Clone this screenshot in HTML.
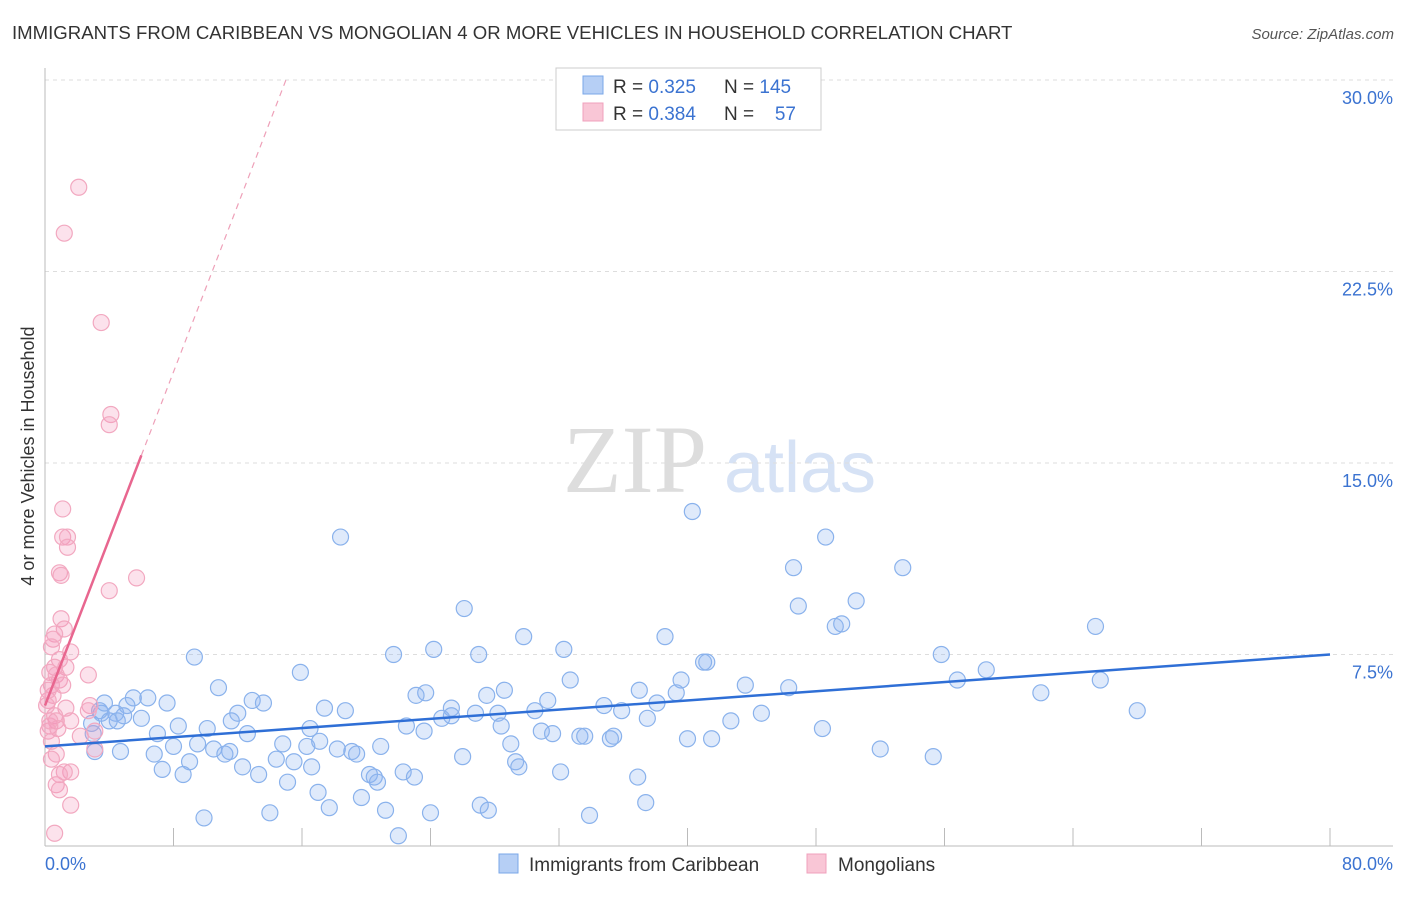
<!DOCTYPE html>
<html><head><meta charset="utf-8"><style>
body{margin:0;background:#fff;font-family:"Liberation Sans",sans-serif}
svg text{font-family:"Liberation Sans",sans-serif}
</style></head><body>
<svg id="c" width="1406" height="892" viewBox="0 0 1406 892">
<text x="12" y="39" font-size="18.6" fill="#333">IMMIGRANTS FROM CARIBBEAN VS MONGOLIAN 4 OR MORE VEHICLES IN HOUSEHOLD CORRELATION CHART</text>
<text x="1394" y="39" font-size="15" fill="#555" font-style="italic" text-anchor="end">Source: ZipAtlas.com</text>
<text transform="translate(34,456) rotate(-90)" font-size="18" fill="#333" text-anchor="middle">4 or more Vehicles in Household</text>
<text x="635" y="492" font-size="96" fill="#ddd" text-anchor="middle" style="font-family:'Liberation Serif',serif">ZIP</text>
<text x="800" y="492" font-size="72" fill="#d6e2f5" text-anchor="middle">atlas</text>
<g id="grid"></g><g id="axes"></g><g id="pts"></g><g id="trend"></g>
<g>
<rect x="556" y="68" width="265" height="62" fill="#fff" stroke="#ccc"/>
<rect x="583" y="76" width="20" height="18" fill="#b6cff5" stroke="#7aa7e8"/>
<rect x="583" y="103" width="20" height="18" fill="#f9c6d6" stroke="#f0a0bc"/>
<text x="613" y="93" font-size="19" fill="#333">R = <tspan fill="#3b73d1">0.325</tspan></text>
<text x="724" y="93" font-size="19" fill="#333">N = <tspan fill="#3b73d1">145</tspan></text>
<text x="613" y="120" font-size="19" fill="#333">R = <tspan fill="#3b73d1">0.384</tspan></text>
<text x="724" y="120" font-size="19" fill="#333">N = </text>
<text x="796" y="120" font-size="19" fill="#3b73d1" text-anchor="end">57</text>
</g>
<g>
<rect x="499" y="854" width="19" height="19" fill="#b6cff5" stroke="#7aa7e8"/>
<text x="529" y="871" font-size="19" fill="#333">Immigrants from Caribbean</text>
<rect x="807" y="854" width="19" height="19" fill="#f9c6d6" stroke="#f0a0bc"/>
<text x="838" y="871" font-size="19" fill="#333">Mongolians</text>
</g>
</svg>
<script>
const yTicks=[7.5,15,22.5,30];
const yTickLabels=["7.5%","15.0%","22.5%","30.0%"];
const xTicks=[0,8,16,24,32,40,48,56,64,72,80];
const xEndLabels=["0.0%","80.0%"];
const blueX=[18.4,40.3,48.6,46.6,53.4,26.1,46.9,50.5,49.2,49.6,65.4,29.8,38.6,32.3,24.2,21.7,27.0,55.8,41.0,41.2,9.3,15.9,58.6,32.7,39.6,65.7,56.8,10.8,23.7,28.6,27.5,37.0,39.3,43.6,46.3,62.0,68.0,5.5,6.4,7.6,12.9,13.6,23.1,31.3,38.1,12.0,17.4,18.7,25.3,26.8,30.5,34.8,35.9,3.5,5.1,3.4,4.4,4.5,4.9,6.0,4.0,44.6,11.6,24.7,25.3,28.2,8.3,10.1,16.5,28.4,37.5,42.7,48.4,12.6,7.0,22.5,23.6,30.9,31.6,33.3,33.6,35.2,35.4,17.1,8.0,9.5,10.5,11.2,11.5,14.8,16.3,18.2,19.1,19.4,20.9,29.0,40.0,41.5,52.0,4.7,6.8,9.0,14.4,15.5,26.0,29.3,29.5,55.3,7.3,8.6,12.3,13.3,16.6,20.2,20.5,20.7,22.3,23.0,32.1,36.9,15.1,17.0,19.7,17.7,27.1,27.6,37.4,9.9,14.0,21.2,24.0,33.9,22.0,3.1,3.0,2.9,3.7];
const blueY=[12.1,13.1,12.1,10.9,10.9,9.3,9.4,9.6,8.6,8.7,8.6,8.2,8.2,7.7,7.7,7.5,7.5,7.5,7.2,7.2,7.4,6.8,6.9,6.5,6.5,6.5,6.5,6.2,6.0,6.1,5.9,6.1,6.0,6.3,6.2,6.0,5.3,5.8,5.8,5.6,5.7,5.6,5.9,5.7,5.6,5.2,5.4,5.3,5.4,5.2,5.3,5.5,5.3,5.2,5.5,5.3,5.2,4.9,5.1,5.0,4.9,5.2,4.9,5.0,5.1,5.2,4.7,4.6,4.6,4.7,5.0,4.9,4.6,4.4,4.4,4.7,4.5,4.5,4.4,4.3,4.3,4.2,4.3,4.1,3.9,4.0,3.8,3.6,3.7,4.0,3.9,3.8,3.7,3.6,3.9,4.0,4.2,4.2,3.8,3.7,3.6,3.3,3.4,3.3,3.5,3.3,3.1,3.5,3.0,2.8,3.1,2.8,3.1,2.8,2.7,2.5,2.9,2.7,2.9,2.7,2.5,2.1,1.9,1.5,1.6,1.4,1.7,1.1,1.3,1.4,1.3,1.2,0.4,3.7,4.4,4.8,5.6];
const pinkX=[2.1,1.2,3.5,4.1,4.0,1.1,1.1,1.4,1.4,0.9,1.0,5.7,4.0,1.0,1.2,0.6,0.5,1.6,0.4,0.9,1.3,2.7,0.6,0.3,0.7,0.9,0.4,1.1,1.3,0.5,0.2,2.8,2.7,0.6,0.7,1.6,0.3,0.8,0.2,3.1,2.2,3.1,0.7,0.4,1.6,1.2,0.9,0.7,0.9,1.6,0.6,0.3,0.4,0.2,0.1];
const pinkY=[25.8,24.0,20.5,16.9,16.5,13.2,12.1,12.1,11.7,10.7,10.6,10.5,10.0,8.9,8.5,8.3,8.1,7.6,7.8,7.3,7.0,6.7,7.0,6.8,6.7,6.5,6.3,6.3,5.4,5.9,5.7,5.5,5.3,5.1,4.9,4.9,4.7,4.6,4.5,4.5,4.3,3.8,3.6,3.4,2.9,2.9,2.8,2.4,2.2,1.6,0.5,4.9,4.1,6.1,5.5];
const blueTrend=[3.9,7.5];
const pinkTrend=[5.5,15.3];
const pinkSolidEnd=6;

const X=v=>45+v/80*1285, Y=v=>846-v/30*766;
const NS="http://www.w3.org/2000/svg";
function mk(tag,attrs,parent){const e=document.createElementNS(NS,tag);for(const k in attrs)e.setAttribute(k,attrs[k]);document.getElementById(parent).appendChild(e);return e;}
yTicks.forEach((t,i)=>{
 const l=mk('line',{x1:45,x2:1393,y1:Y(t),y2:Y(t),stroke:'#ddd','stroke-dasharray':'4,4'},'grid');
 
 
 const tx=mk('text',{x:1393,y:Y(t)+24,'font-size':18,fill:'#3b73d1','text-anchor':'end'},'grid');
 tx.textContent=yTickLabels[i];
 
 
});
const ax=mk('line',{x1:45,x2:45,y1:68,y2:846,stroke:'#bbb'},'axes');


const bx=mk('line',{x1:45,x2:1393,y1:846,y2:846,stroke:'#bbb'},'axes');


xTicks.forEach(t=>{
 const l=mk('line',{x1:X(t),x2:X(t),y1:828,y2:846,stroke:'#bbb'},'axes');
 
 
});
const xl0=mk('text',{x:45,y:870,'font-size':18,fill:'#3b73d1'},'axes');xl0.textContent=xEndLabels[0];


const xl1=mk('text',{x:1393,y:870,'font-size':18,fill:'#3b73d1','text-anchor':'end'},'axes');xl1.textContent=xEndLabels[1];


blueX.forEach((v,i)=>{
 const c=mk('circle',{cx:X(v),cy:Y(blueY[i]),r:8,fill:'rgba(140,180,240,0.28)',stroke:'#8ab2ec','stroke-width':1.2},'pts');
 
 
});
pinkX.forEach((v,i)=>{
 const c=mk('circle',{cx:X(v),cy:Y(pinkY[i]),r:8,fill:'rgba(245,150,185,0.28)',stroke:'#f2a8c0','stroke-width':1.2},'pts');
 
 
});
const bt=mk('line',{x1:X(0),y1:Y(blueTrend[0]),x2:X(80),y2:Y(blueTrend[1]),stroke:'#2f6fd6','stroke-width':2.5},'trend');


const slope=(pinkTrend[1]-pinkTrend[0])/pinkSolidEnd;
const pt=mk('line',{x1:X(0),y1:Y(pinkTrend[0]),x2:X(pinkSolidEnd),y2:Y(pinkTrend[1]),stroke:'#e8668f','stroke-width':2.5},'trend');


const xEnd=(30-pinkTrend[0])/slope;
const pd=mk('line',{x1:X(pinkSolidEnd),y1:Y(pinkTrend[1]),x2:X(xEnd),y2:Y(30),stroke:'#eea0b8','stroke-width':1.2,'stroke-dasharray':'6,5'},'trend');


</script>
</body></html>
